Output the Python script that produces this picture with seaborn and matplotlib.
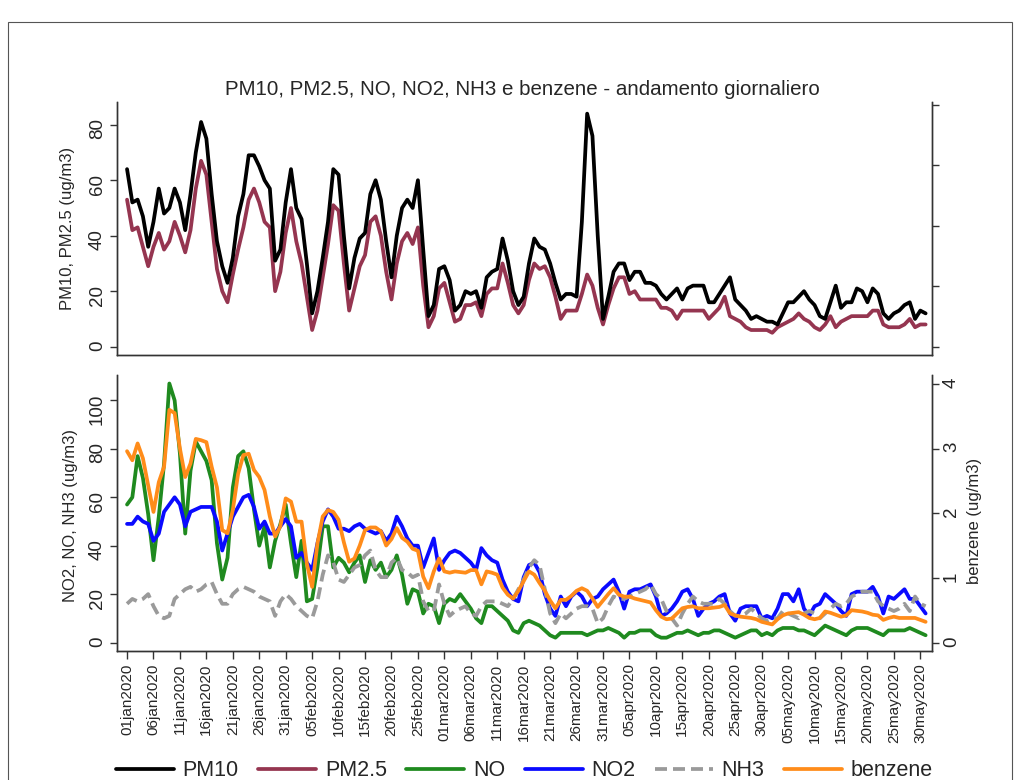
"""
Daily PM10, PM2.5, NO, NO2, NH3 and benzene, Jan-May 2020, two stacked panels
"""

import matplotlib.pyplot as plt
import matplotlib.dates as mdates
from matplotlib.lines import Line2D
from matplotlib.patches import Rectangle
import pandas as pd
import seaborn as sns

sns.set_theme(style='ticks')
plt.rcParams['font.family'] = ['Liberation Sans', 'DejaVu Sans']

dates = pd.date_range('2020-01-01', periods=152, freq='D')

pm10 = [64, 52, 53, 47, 36, 45, 57, 48, 50, 57,
        52, 42, 55, 70, 81, 75, 55, 38, 29, 23,
        32, 47, 55, 69, 69, 65, 60, 57, 31, 35,
        52, 64, 50, 46, 30, 12, 20, 32, 45, 64,
        62, 40, 21, 32, 39, 41, 55, 60, 53, 38,
        25, 40, 50, 53, 50, 60, 35, 11, 15, 28,
        29, 24, 13, 15, 20, 19, 20, 14, 25, 27,
        28, 39, 31, 20, 15, 18, 30, 39, 36, 35,
        30, 23, 17, 19, 19, 18, 45, 84, 76, 40,
        10, 18, 27, 30, 30, 24, 27, 27, 23, 23,
        22, 19, 17, 19, 21, 17, 21, 22, 22, 22,
        16, 16, 19, 22, 25, 17, 15, 13, 10, 11,
        10, 9, 9, 8, 12, 16, 16, 18, 20, 17,
        15, 11, 10, 16, 22, 14, 16, 16, 21, 20,
        16, 21, 19, 12, 10, 12, 13, 15, 16, 10,
        13, 12]

pm25 = [53, 42, 43, 36, 29, 36, 41, 35, 38, 45,
        40, 34, 42, 57, 67, 62, 45, 28, 20, 16,
        26, 35, 43, 53, 57, 52, 45, 43, 20, 27,
        41, 50, 38, 30, 18, 6, 13, 25, 37, 51,
        49, 30, 13, 21, 29, 33, 45, 47, 40, 27,
        17, 30, 38, 41, 37, 43, 22, 7, 11, 21,
        23, 16, 9, 10, 15, 15, 16, 11, 19, 21,
        21, 30, 23, 15, 12, 15, 24, 30, 28, 29,
        25, 18, 10, 13, 13, 13, 19, 26, 22, 14,
        8, 15, 21, 25, 25, 19, 20, 17, 17, 17,
        17, 14, 14, 13, 10, 13, 13, 13, 13, 13,
        10, 12, 14, 18, 11, 10, 9, 7, 6, 6,
        6, 6, 5, 7, 8, 9, 10, 12, 10, 9,
        7, 6, 8, 11, 7, 9, 10, 11, 11, 11,
        11, 13, 13, 8, 7, 7, 7, 8, 10, 7,
        8, 8]

no = [57, 60, 77, 68, 53, 34, 52, 74, 107, 100,
      78, 45, 71, 83, 79, 75, 67, 41, 26, 35,
      64, 77, 79, 72, 55, 40, 48, 31, 42, 49,
      57, 41, 27, 42, 17, 18, 31, 48, 48, 31,
      35, 33, 29, 33, 36, 25, 34, 30, 33, 27,
      30, 36, 28, 16, 22, 21, 12, 16, 15, 8,
      16, 18, 17, 20, 17, 14, 10, 8, 15, 15,
      13, 11, 9, 5, 4, 8, 9, 8, 7, 5,
      3, 2, 4, 4, 4, 4, 4, 3, 4, 5,
      5, 6, 5, 4, 2, 4, 4, 5, 5, 5,
      3, 2, 2, 3, 4, 4, 5, 4, 3, 4,
      4, 5, 5, 4, 3, 2, 3, 4, 5, 5,
      3, 4, 3, 5, 6, 6, 6, 5, 5, 4,
      3, 5, 7, 6, 5, 4, 3, 5, 6, 6,
      6, 5, 4, 3, 5, 5, 5, 5, 6, 5,
      4, 3]

no2 = [49, 49, 52, 50, 49, 42, 45, 54, 57, 60,
       57, 48, 54, 55, 56, 56, 56, 50, 38, 45,
       52, 56, 60, 61, 56, 47, 50, 45, 45, 48,
       51, 48, 35, 37, 33, 30, 41, 50, 55, 52,
       47, 47, 46, 48, 49, 47, 46, 45, 46, 42,
       45, 52, 48, 43, 40, 40, 31, 37, 43, 30,
       34, 37, 38, 37, 35, 33, 30, 39, 36, 34,
       33, 26, 21, 18, 17, 27, 32, 33, 29, 20,
       14, 11, 19, 15, 19, 21, 19, 15, 18, 19,
       22, 24, 26, 21, 14, 21, 22, 22, 23, 24,
       19, 11, 12, 14, 17, 21, 22, 18, 11, 14,
       16, 17, 19, 20, 12, 9, 14, 15, 15, 15,
       10, 11, 10, 14, 20, 20, 17, 22, 14, 11,
       15, 16, 20, 18, 16, 13, 11, 20, 21, 21,
       21, 23, 19, 12, 19, 18, 20, 22, 18, 18,
       15, 12]

nh3 = [16, 18, 17, 18, 20, 15, 11, 10, 11, 18,
       20, 22, 23, 21, 22, 24, 25, 20, 16, 16,
       20, 22, 23, 22, 21, 19, 18, 17, 11, 17,
       20, 18, 15, 13, 11, 10, 17, 28, 36, 33,
       26, 25, 28, 31, 32, 36, 38, 30, 27, 27,
       33, 35, 30, 29, 27, 28, 17, 13, 13, 24,
       16, 11, 13, 14, 15, 12, 11, 15, 17, 17,
       17, 16, 15, 18, 22, 26, 31, 34, 32, 22,
       12, 8, 12, 10, 12, 14, 15, 15, 14, 8,
       10, 15, 19, 18, 18, 19, 20, 21, 22, 24,
       20, 18, 13, 10, 7, 12, 16, 19, 17, 16,
       16, 16, 18, 16, 13, 11, 11, 12, 14, 12,
       10, 9, 10, 10, 13, 12, 11, 10, 12, 13,
       12, 10, 12, 14, 16, 15, 16, 19, 20, 21,
       21, 21, 17, 15, 14, 13, 14, 16, 13, 19,
       16, 15]

benzene = [2.96, 2.82, 3.08, 2.85, 2.43, 2.02, 2.48, 2.72, 3.6, 3.55,
           3.0, 2.56, 2.77, 3.15, 3.13, 3.1, 2.72, 2.4, 1.74, 1.69,
           2.05, 2.61, 2.9, 2.92, 2.67, 2.56, 2.36, 1.95, 1.64, 1.8,
           2.23, 2.18, 1.87, 1.87, 1.22, 0.86, 1.53, 1.95, 2.05, 2.02,
           1.9, 1.55, 1.25, 1.3, 1.5, 1.74, 1.78, 1.78, 1.72, 1.5,
           1.6, 1.77, 1.62, 1.56, 1.45, 1.42, 1.02, 0.84, 1.1, 1.3,
           1.1, 1.08, 1.1, 1.09, 1.08, 1.12, 1.12, 0.9, 1.1, 1.08,
           1.05, 0.85, 0.74, 0.68, 0.8, 0.95, 1.1, 1.05, 0.92, 0.8,
           0.65, 0.53, 0.66, 0.66, 0.72, 0.8, 0.84, 0.8, 0.68, 0.55,
           0.65, 0.75, 0.84, 0.74, 0.71, 0.71, 0.68, 0.66, 0.64, 0.62,
           0.5, 0.4, 0.36, 0.37, 0.45, 0.53, 0.55, 0.56, 0.53, 0.53,
           0.53, 0.54, 0.55, 0.58, 0.45, 0.42, 0.4, 0.39, 0.38, 0.36,
           0.32, 0.3, 0.28, 0.36, 0.42, 0.45, 0.46, 0.47, 0.43, 0.38,
           0.36, 0.38, 0.48, 0.46, 0.43, 0.4, 0.42, 0.5, 0.49, 0.48,
           0.46, 0.43, 0.42, 0.35, 0.38, 0.4, 0.38, 0.38, 0.38, 0.38,
           0.35, 0.32]

tick_dates = pd.date_range('2020-01-01', '2020-05-30', freq='5D')
tick_labels = [d.strftime('%d%b%Y').lower() for d in tick_dates]

COLORS = {'PM10': 'black', 'PM2.5': '#953550', 'NO': '#1f8a1f',
          'NO2': '#0a0aff', 'NH3': '#9a9a9a', 'benzene': '#ff8c1a'}
LW = 2.7
SPINE = '#333333'


def style_axis(ax):
    for s in ax.spines.values():
        s.set_color(SPINE)
        s.set_linewidth(1.0)
    ax.spines['top'].set_visible(False)
    ax.tick_params(axis='y', labelrotation=90, labelsize=13.5, length=5,
                   width=1.0, color=SPINE, pad=3)


def main():
    df = pd.DataFrame({'date': dates, 'PM10': pm10, 'PM2.5': pm25,
                       'NO': no, 'NO2': no2, 'NH3': nh3,
                       'benzene': benzene})

    fig = plt.figure(figsize=(10.2, 7.8), dpi=100)
    fig.patches.append(Rectangle((0.0078, -0.05), 0.984, 1.0218,
                                 transform=fig.transFigure, fill=False,
                                 edgecolor='#555555', linewidth=0.8))

    ax1 = fig.add_axes([0.1147, 0.5449, 0.799, 0.3243])
    ax2 = fig.add_axes([0.1147, 0.1654, 0.799, 0.3538], sharex=ax1)

    # Top panel: particulate
    for col in ['PM2.5', 'PM10']:
        sns.lineplot(x='date', y=col, data=df, ax=ax1, color=COLORS[col],
                     linewidth=LW)
    ax1.set_ylim(-3, 88.2)
    ax1.set_yticks([0, 20, 40, 60, 80])
    ax1.set_ylabel('PM10, PM2.5 (ug/m3)', fontsize=12)
    ax1.yaxis.set_label_coords(-0.052, 0.5)
    style_axis(ax1)
    ax1.tick_params(axis='x', bottom=False, labelbottom=False)
    ax1.set_xlabel('')

    ax1r = ax1.twinx()
    ax1r.set_ylim(-3 / 21.78, 88.2 / 21.78)
    ax1r.set_yticks([0, 1, 2, 3, 4])
    ax1r.set_yticklabels([])
    style_axis(ax1r)

    # Bottom panel: gases
    sns.lineplot(x='date', y='NO', data=df, ax=ax2, color=COLORS['NO'],
                 linewidth=LW)
    sns.lineplot(x='date', y='NO2', data=df, ax=ax2, color=COLORS['NO2'],
                 linewidth=LW)
    sns.lineplot(x='date', y='NH3', data=df, ax=ax2, color=COLORS['NH3'],
                 linewidth=LW)
    ax2.get_lines()[-1].set_dashes((3.2, 1.6))
    ax2.set_ylim(-3.5, 110.5)
    ax2.set_yticks([0, 20, 40, 60, 80, 100])
    ax2.set_ylabel('NO2, NO, NH3 (ug/m3)', fontsize=12)
    ax2.yaxis.set_label_coords(-0.048, 0.49)
    style_axis(ax2)

    ax2r = ax2.twinx()
    sns.lineplot(x='date', y='benzene', data=df, ax=ax2r,
                 color=COLORS['benzene'], linewidth=LW)
    ax2r.set_ylim(-3.5 / 26.7, 110.5 / 26.7)
    ax2r.set_yticks([0, 1, 2, 3, 4])
    ax2r.set_ylabel('benzene (ug/m3)', fontsize=12, rotation=90)
    ax2r.yaxis.set_label_coords(1.043, 0.47)
    style_axis(ax2r)

    ax2.set_xticks(mdates.date2num(tick_dates))
    ax2.set_xticklabels(tick_labels, rotation=90, fontsize=11)
    ax2.tick_params(axis='x', length=6, width=1.0, color=SPINE, pad=3)
    ax2.set_xlabel('')
    start = mdates.date2num(pd.Timestamp('2020-01-01'))
    ax2.set_xlim(start - 1.9, start + 152.2)

    # Legend along the bottom edge
    handles = []
    for name in ['PM10', 'PM2.5', 'NO', 'NO2', 'NH3', 'benzene']:
        ls = (0, (3.2, 1.6)) if name == 'NH3' else '-'
        handles.append(Line2D([], [], color=COLORS[name], linewidth=LW,
                              linestyle=ls, label=name))
    fig.legend(handles=handles, loc='center', bbox_to_anchor=(0.514, 0.012),
               ncol=6, frameon=False, fontsize=15.5, handlelength=2.7,
               columnspacing=0.9, handletextpad=0.4)

    fig.text(0.512, 0.885,
             'PM10, PM2.5, NO, NO2, NH3 e benzene - andamento giornaliero',
             ha='center', va='center', fontsize=14.8)

    plt.savefig('out.png', dpi=100)


if __name__ == '__main__':
    main()
